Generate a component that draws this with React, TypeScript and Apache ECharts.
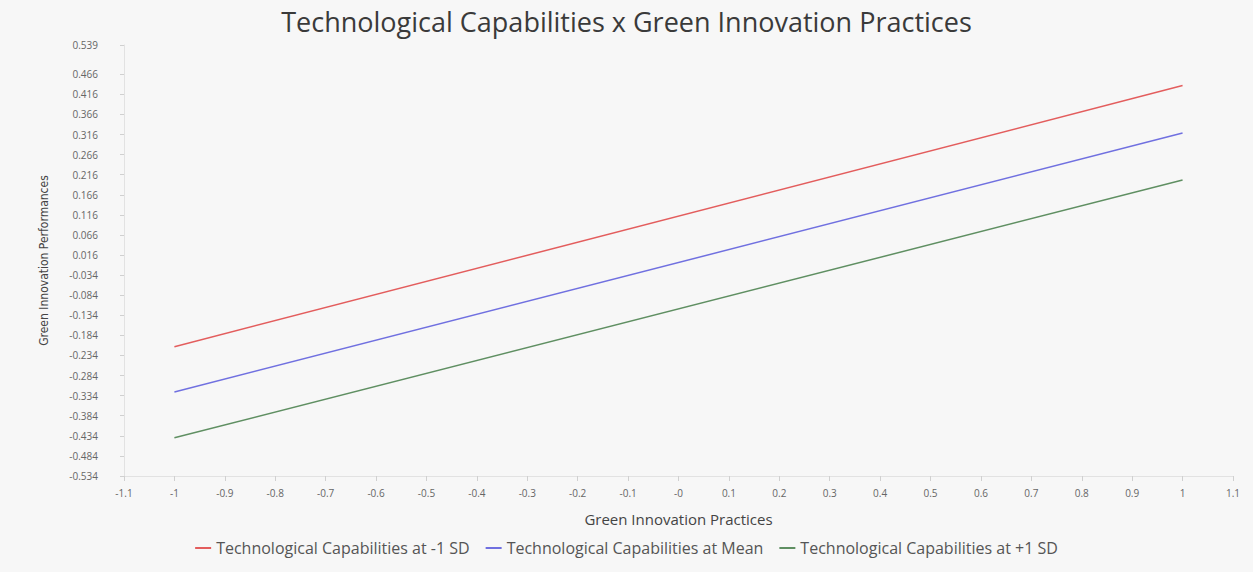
import React, { useEffect, useRef } from "react";
import * as echarts from "echarts";

const titleText = "Technological Capabilities x Green Innovation Practices";
const xAxisName = "Green Innovation Practices";
const yAxisName = "Green Innovation Performances";

const seriesNames = [
  "Technological Capabilities at -1 SD",
  "Technological Capabilities at Mean",
  "Technological Capabilities at +1 SD",
];
const seriesColors = ["#e35d5d", "#7070e0", "#5f8f62"];

const xPoints = [-1, 1];
const lowSD = [-0.212, 0.438];
const meanSD = [-0.325, 0.32];
const highSD = [-0.439, 0.203];

const xTickValues = [
  -1.1, -1, -0.9, -0.8, -0.7, -0.6, -0.5, -0.4, -0.3, -0.2, -0.1, 0, 0.1, 0.2, 0.3, 0.4, 0.5, 0.6,
  0.7, 0.8, 0.9, 1, 1.1,
];
const xTickLabels = [
  "-1.1", "-1", "-0.9", "-0.8", "-0.7", "-0.6", "-0.5", "-0.4", "-0.3", "-0.2", "-0.1", "-0",
  "0.1", "0.2", "0.3", "0.4", "0.5", "0.6", "0.7", "0.8", "0.9", "1", "1.1",
];

const yTickValues = [
  -0.534, -0.484, -0.434, -0.384, -0.334, -0.284, -0.234, -0.184, -0.134, -0.084, -0.034, 0.016,
  0.066, 0.116, 0.166, 0.216, 0.266, 0.316, 0.366, 0.416, 0.466, 0.539,
];
const yTickLabels = [
  "-0.534", "-0.484", "-0.434", "-0.384", "-0.334", "-0.284", "-0.234", "-0.184", "-0.134",
  "-0.084", "-0.034", "0.016", "0.066", "0.116", "0.166", "0.216", "0.266", "0.316", "0.366",
  "0.416", "0.466", "0.539",
];

const nearestLabel = (vals: number[], labels: string[], v: number) => {
  let best = 0;
  for (let i = 1; i < vals.length; i++) {
    if (Math.abs(vals[i] - v) < Math.abs(vals[best] - v)) best = i;
  }
  return labels[best];
};

export default function App() {
  const ref = useRef<HTMLDivElement>(null);
  useEffect(() => {
    document.body.style.margin = "0";
    document.body.style.background = "#f7f7f7";
    if (!ref.current) return;
    const chart = echarts.init(ref.current, undefined, { renderer: "svg" });
    const values = [lowSD, meanSD, highSD];
    chart.setOption({
      animation: false,
      backgroundColor: "#f7f7f7",
      title: {
        text: titleText,
        left: "center",
        top: 3,
        textStyle: {
          fontFamily: "Open Sans, Noto Sans, sans-serif",
          fontSize: 27,
          fontWeight: "normal",
          color: "#3a3a3a",
        },
      },
      legend: {
        bottom: 11,
        left: "center",
        icon: "rect",
        itemWidth: 16,
        itemHeight: 2,
        itemGap: 16,
        textStyle: {
          fontFamily: "Open Sans, Noto Sans, sans-serif",
          fontSize: 16,
          color: "#555",
        },
        data: seriesNames,
      },
      grid: { left: 124, right: 20, top: 45, bottom: 96, containLabel: false },
      xAxis: {
        type: "value",
        min: -1.1,
        max: 1.1,
        name: xAxisName,
        nameLocation: "middle",
        nameGap: 35,
        nameTextStyle: {
          fontFamily: "Open Sans, Noto Sans, sans-serif",
          fontSize: 15,
          color: "#444",
        },
        axisLine: { show: true, onZero: false, lineStyle: { color: "#e2e2e2" } },
        axisTick: {
          show: true,
          customValues: xTickValues,
          length: 5,
          lineStyle: { color: "#d0d0d0" },
        },
        axisLabel: {
          customValues: xTickValues,
          formatter: (v: number) => nearestLabel(xTickValues, xTickLabels, v),
          fontFamily: "Open Sans, Noto Sans, sans-serif",
          fontSize: 10,
          color: "#666",
          margin: 12,
        },
        splitLine: { show: false },
      },
      yAxis: {
        type: "value",
        min: -0.534,
        max: 0.539,
        name: yAxisName,
        nameLocation: "middle",
        nameGap: 74,
        nameTextStyle: {
          fontFamily: "Liberation Sans Narrow, DejaVu Sans Condensed, sans-serif",
          fontSize: 12,
          color: "#444",
        },
        axisLine: { show: true, onZero: false, lineStyle: { color: "#e2e2e2" } },
        axisTick: {
          show: true,
          customValues: yTickValues,
          length: 4,
          lineStyle: { color: "#d0d0d0" },
        },
        axisLabel: {
          customValues: yTickValues,
          formatter: (v: number) => nearestLabel(yTickValues, yTickLabels, v),
          fontFamily: "Open Sans, Noto Sans, sans-serif",
          fontSize: 10,
          color: "#666",
          margin: 26,
        },
        splitLine: { show: false },
      },
      series: seriesNames.map((name, i) => ({
        name,
        type: "line",
        showSymbol: false,
        symbol: "none",
        color: seriesColors[i],
        lineStyle: { width: 1.5, color: seriesColors[i] },
        data: xPoints.map((x, j) => [x, values[i][j]]),
      })),
    });
    return () => chart.dispose();
  }, []);
  return <div ref={ref} style={{ width: 1253, height: 572 }} />;
}
